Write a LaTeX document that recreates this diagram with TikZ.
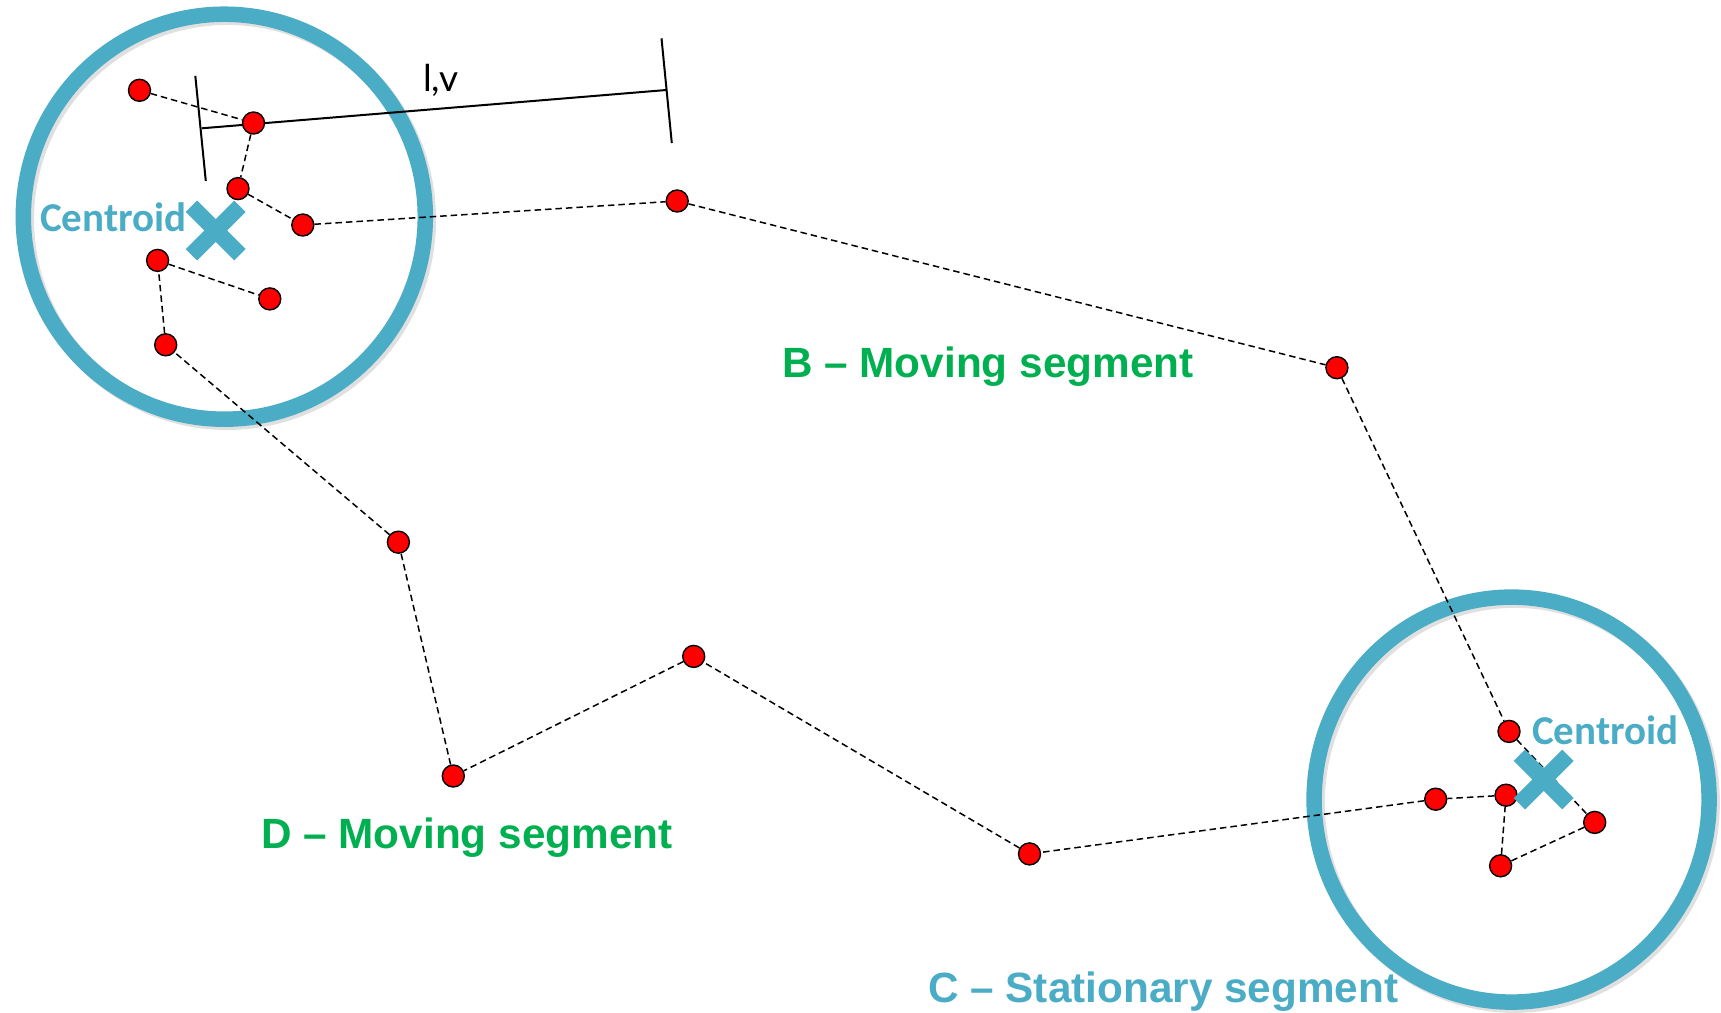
\documentclass[tikz,border=0pt]{standalone}
\usepackage{fontspec}
\setmainfont{Liberation Sans}
\newfontfamily\calibrifont{Carlito}
\newfontfamily\gillfont{Lato}
\usetikzlibrary{shapes.geometric,shapes.misc}
\definecolor{teal}{RGB}{75,172,198}
\definecolor{sgreen}{RGB}{0,176,80}
\pgfdeclarelayer{bgcircle}
\pgfdeclarelayer{bglines}
\pgfsetlayers{bgcircle,bglines,main}
\tikzset{
  dot/.style={circle, fill=red, draw=black, line width=1.4pt, minimum size=22pt, inner sep=0pt},
  zone/.style={ellipse, draw=teal, line width=15.5pt, inner sep=0pt},
  zoneshadow/.style={ellipse, draw=black!12, line width=15.5pt, inner sep=0pt},
  traj/.style={draw=black, line width=1.5pt, dash pattern=on 6.5pt off 4pt},
  bar/.style={draw=black, line width=2pt},
  centroidmark/.style={cross out, draw=teal, line width=16pt, minimum size=32.5pt, inner sep=0pt},
  centroidlabel/.style={anchor=base west, inner sep=0pt, text=teal, font=\calibrifont\bfseries\fontsize{41}{48}\selectfont},
  seglabel/.style={anchor=base west, inner sep=0pt, font=\bfseries\fontsize{42.3}{50}\selectfont},
}
\begin{document}
\begin{tikzpicture}[x=1pt,y=-1pt]
\useasboundingbox (0,0) rectangle (1721,1012);

% zones
\begin{pgfonlayer}{bgcircle}
\fill[white] (0,0) rectangle (1721,1012);
\node[zoneshadow, minimum width=402pt, minimum height=405pt] (zAs) at (227.3,219.7) {};
\node[zoneshadow, minimum width=395pt, minimum height=405pt] (zCs) at (1514.6,802.6) {};
\node[zone, minimum width=402pt, minimum height=405pt] (zA) at (224.3,216.7) {};
\node[zone, minimum width=395pt, minimum height=405pt] (zC) at (1511.6,799.6) {};
\end{pgfonlayer}

% points
\node[dot] (p1) at (139.5,90.3) {};
\node[dot] (p2) at (253.5,123.0) {};
\node[dot] (p3) at (238.0,188.6) {};
\node[dot] (p4) at (302.8,225.0) {};
\node[dot] (p5) at (677.2,201.0) {};
\node[dot] (p6) at (1336.9,367.7) {};
\node[dot] (p7) at (1509.0,731.4) {};
\node[dot] (p8) at (1594.7,822.4) {};
\node[dot] (p9) at (1500.6,865.8) {};
\node[dot] (p10) at (1506.0,795.2) {};
\node[dot] (p11) at (1435.7,799.2) {};
\node[dot] (p12) at (1029.5,853.9) {};
\node[dot] (p13) at (693.7,656.4) {};
\node[dot] (p14) at (453.3,776.0) {};
\node[dot] (p15) at (398.4,542.2) {};
\node[dot] (p16) at (165.7,344.8) {};
\node[dot] (p17) at (157.6,260.4) {};
\node[dot] (p18) at (269.8,298.9) {};

% centroids
\node[centroidmark] (xA) at (215.7,230.5) {};
\node[centroidmark] (xC) at (1543.7,779.5) {};

% trajectory and measurement bar
\coordinate (m1) at (201.8,128.3);
\coordinate (m2) at (666.4,90.0);
\coordinate (t1a) at (195.3,75.8);
\coordinate (t1b) at (205.8,181.0);
\coordinate (t2a) at (661.5,38.3);
\coordinate (t2b) at (671.8,143.0);
\begin{pgfonlayer}{bglines}
\draw[traj] (p1) -- (p2) -- (p3) -- (p4) -- (p5) -- (p6) -- (p7) -- (p8) -- (p9) -- (p10) -- (p11) -- (p12) -- (p13) -- (p14) -- (p15) -- (p16) -- (p17) -- (p18);
\draw[bar] (m1) -- (m2);
\draw[bar] (t1a) -- (t1b);
\draw[bar] (t2a) -- (t2b);
\end{pgfonlayer}

% labels
\node[anchor=base west, inner sep=0pt, font=\gillfont\fontsize{37}{44}\selectfont] (lv) at (423,91) {l,v};
\node[centroidlabel] (cA) at (40,231) {Centroid};
\node[centroidlabel] (cC) at (1532,744) {Centroid};
\node[seglabel, text=sgreen] (segB) at (782,377) {B – Moving segment};
\node[seglabel, text=sgreen] (segD) at (261,848) {D – Moving segment};
\node[seglabel, text=teal] (segC) at (928,1002) {C – Stationary segment};
\end{tikzpicture}
\end{document}
